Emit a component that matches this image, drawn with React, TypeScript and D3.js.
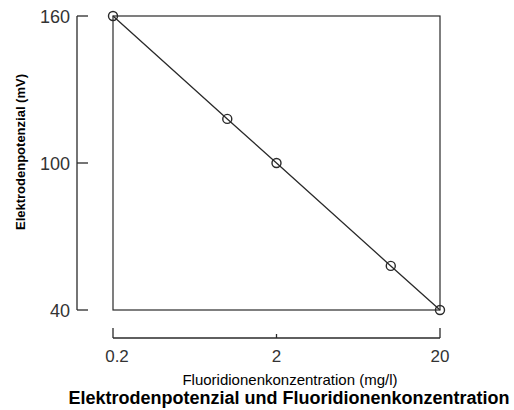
import React from "react";
import * as d3 from "d3";

const concentrations = [0.2, 1, 2, 10, 20];
const potentials = [160, 118, 100, 58, 40];
const xTicks = [0.2, 2, 20];
const xTickLabels = ["0.2", "2", "20"];
const yTicks = [40, 100, 160];
const yTickLabels = ["40", "100", "160"];

const W = 514;
const H = 410;
const left = 113, right = 440, top = 16, bottom = 310;
const yAxisX = 77;
const xAxisY = 338;
const ink = "#2a2a2a";

export default function App() {
  const x = d3.scaleLog().domain([0.2, 20]).range([left, right]);
  const y = d3.scaleLinear().domain([40, 160]).range([bottom, top]);
  const line = d3
    .line<number>()
    .x((_, i) => x(concentrations[i]))
    .y((d) => y(d));
  return (
    <svg
      width={W}
      height={H}
      style={{ position: "absolute", left: 0, top: 0, background: "#fff" }}
      fontFamily="'Liberation Sans', Arial, sans-serif"
    >
      {/* plot frame */}
      <rect x={left} y={top} width={right - left} height={bottom - top} fill="none" stroke={ink} strokeWidth={1.2} />
      {/* y axis */}
      <line x1={yAxisX} x2={yAxisX} y1={y(160)} y2={y(40)} stroke={ink} strokeWidth={1.3} />
      {yTicks.map((t, i) => (
        <g key={t}>
          <line x1={yAxisX} x2={yAxisX + 11} y1={y(t)} y2={y(t)} stroke={ink} strokeWidth={1.3} />
          <text x={70} y={y(t) + 6.5} textAnchor="end" fontSize={18} fill="#333">
            {yTickLabels[i]}
          </text>
        </g>
      ))}
      {/* x axis */}
      <line x1={x(0.2)} x2={x(20)} y1={xAxisY} y2={xAxisY} stroke={ink} strokeWidth={1.3} />
      {xTicks.map((t, i) => (
        <g key={t}>
          <line
            x1={x(t)}
            x2={x(t)}
            y1={xAxisY}
            y2={xAxisY - (i === 1 ? 4 : 10)}
            stroke={ink}
            strokeWidth={1.3}
          />
          <text x={x(t) + (i === 0 ? 4 : 0)} y={362} textAnchor="middle" fontSize={17} fill="#333">
            {xTickLabels[i]}
          </text>
        </g>
      ))}
      {/* data line */}
      <path d={line(potentials) || ""} fill="none" stroke={ink} strokeWidth={1.3} />
      {potentials.map((v, i) => (
        <circle key={i} cx={x(concentrations[i])} cy={y(v)} r={4.5} fill="none" stroke={ink} strokeWidth={1.4} />
      ))}
      {/* labels */}
      <text
        transform={`translate(20, 152) rotate(-90)`}
        textAnchor="middle"
        dy="0.36em"
        fontSize={13}
        fontWeight="bold"
        fill="#000"
      >
        Elektrodenpotenzial (mV)
      </text>
      <text x={290} y={384.5} textAnchor="middle" fontSize={15} fill="#000">
        Fluoridionenkonzentration (mg/l)
      </text>
      <text x={289} y={404} textAnchor="middle" fontSize={18} fontWeight="bold" fill="#000">
        Elektrodenpotenzial und Fluoridionenkonzentration
      </text>
    </svg>
  );
}
